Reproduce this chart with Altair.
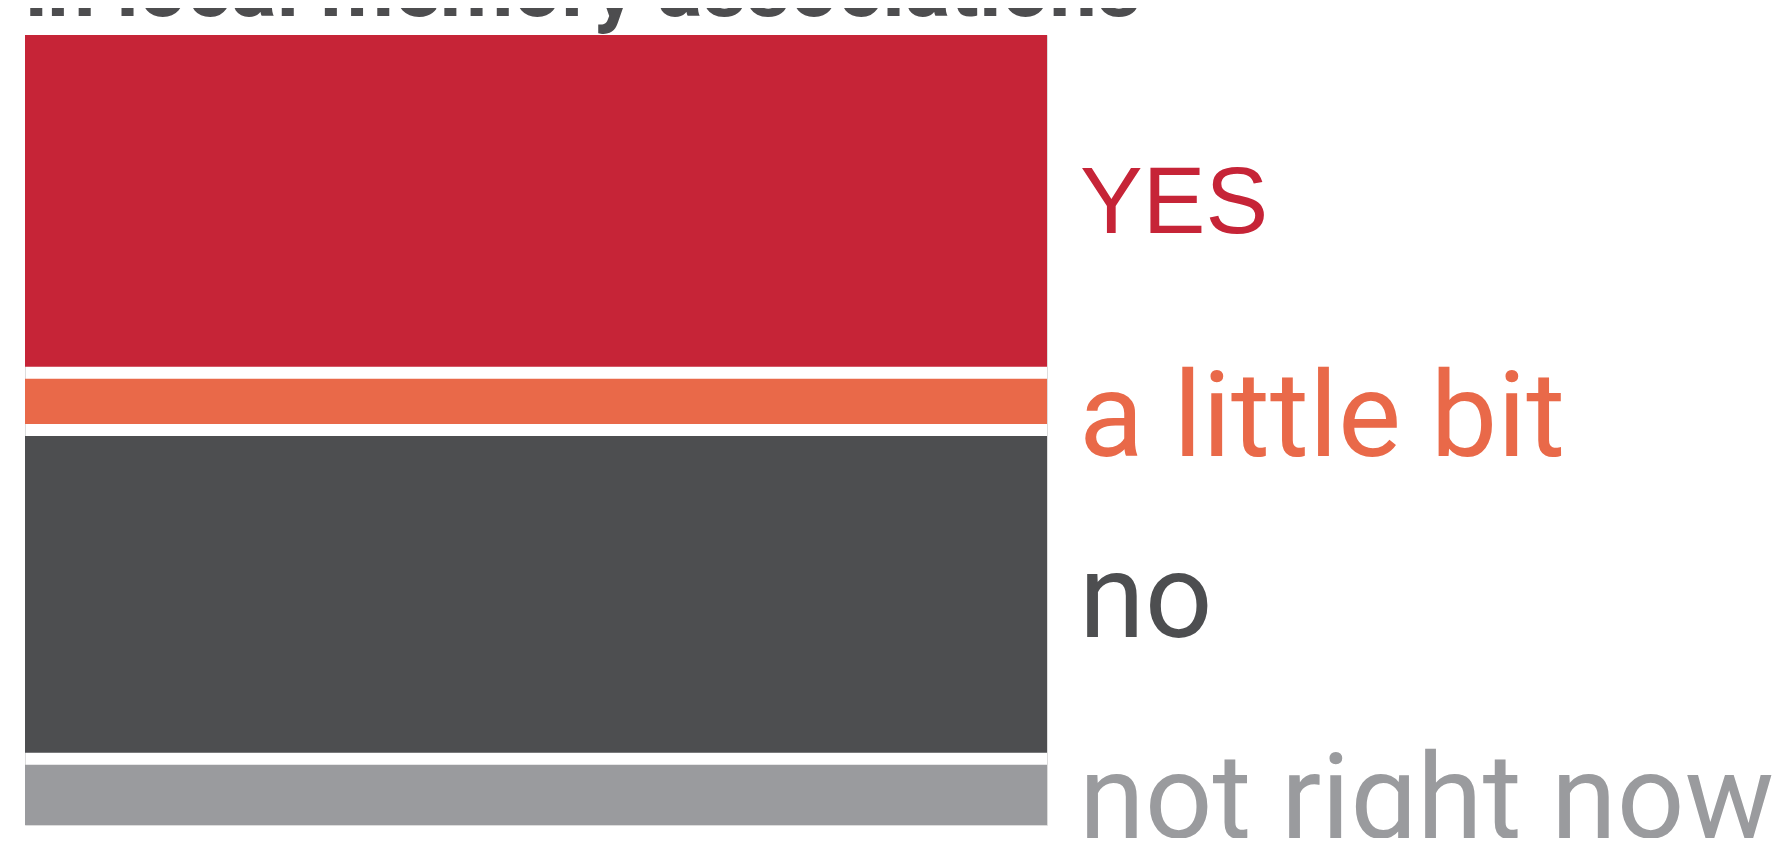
import altair as alt
import pandas as pd

# ---- data ----
categories = ["YES", "a little bit", "no", "not right now"]
values = [44, 6, 42, 8]
colors = ["#C62437", "#E96949", "#4D4E50", "#9A9B9E"]
title_text = ["in local memory associations"]

GAP = 1.6  # gap between stacked segments, in value units
W, H = 1022, 790

df = pd.DataFrame({
    "category": categories,
    "value": values,
    "idx": list(range(len(categories))),
})

base = (
    alt.Chart(df)
    .transform_window(cum="sum(value)", rank="row_number()",
                      sort=[alt.SortField("idx")], frame=[None, 0])
    .transform_calculate(grp='"all"')
    .transform_calculate(y0=f"datum.cum - datum.value + (datum.rank - 1) * {GAP}")
    .transform_calculate(y1=f"datum.cum + (datum.rank - 1) * {GAP}")
    .transform_calculate(ymid="(datum.y0 + datum.y1) / 2")
)

yscale = alt.Scale(domain=[0, 100 + 3 * GAP], reverse=True, nice=False, zero=False)
cscale = alt.Scale(domain=categories, range=colors)

bars = base.mark_bar(stroke=None).encode(
    x=alt.X("grp:N", scale=alt.Scale(paddingInner=0, paddingOuter=0), axis=None),
    y=alt.Y("y0:Q", scale=yscale, axis=None),
    y2="y1:Q",
    color=alt.Color("category:N", scale=cscale, legend=None),
)


def label_layer(cond, dy, font, size, dx):
    return base.transform_filter(cond).mark_text(
        align="left", baseline="alphabetic", dy=dy,
        font=font, fontSize=size,
    ).encode(
        x=alt.value(W + dx),
        y=alt.Y("ymid:Q", scale=yscale, axis=None),
        text="category:N",
        color=alt.Color("category:N", scale=cscale, legend=None),
    )


label_yes = label_layer(alt.datum.category == "YES", 32, "Liberation Sans", 94, 33)
label_bit = label_layer(alt.datum.category == "a little bit", 55, "Roboto", 119, 32)
label_rest = label_layer(
    (alt.datum.category == "no") | (alt.datum.category == "not right now"),
    43, "Roboto", 119, 32)

title = alt.Chart(pd.DataFrame({"t": title_text})).mark_text(
    align="left", baseline="alphabetic",
    font="Roboto", fontWeight="bold", fontSize=85, color="#4D4D4F",
).encode(
    x=alt.value(0),
    y=alt.value(-19),
    text="t:N",
)

chart = (
    alt.layer(bars, label_yes, label_bit, label_rest, title)
    .properties(
        width=W, height=H,
        autosize=alt.AutoSizeParams(type="none"),
        padding={"left": 17, "top": 27, "right": 730, "bottom": 13},
    )
    .configure_view(stroke=None)
    .configure(background="white")
)

chart.save("out.html", embed_options={"renderer": "svg", "actions": False})
